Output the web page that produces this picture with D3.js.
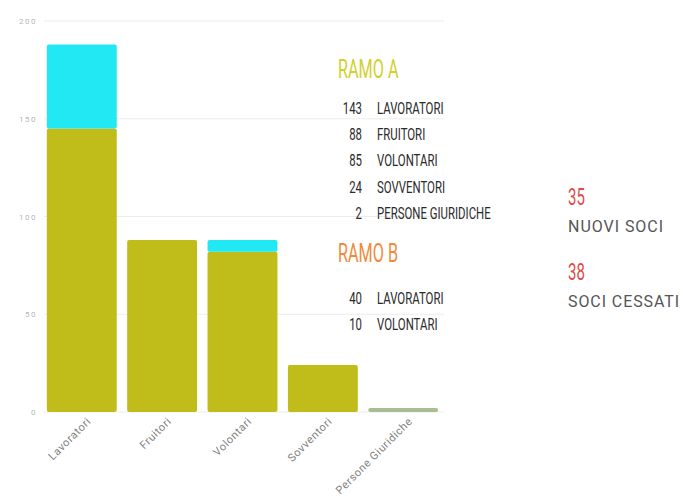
<!DOCTYPE html>
<html>
<head>
<meta charset="utf-8">
<script src="https://cdn.jsdelivr.net/npm/d3@7"></script>
<style>
  body { margin: 0; background: #fff; }
  svg text { font-family: Roboto, "Liberation Sans", sans-serif; }
</style>
</head>
<body>
<div id="chart"></div>
<script>
// categories and series
const categories = ["Lavoratori", "Fruitori", "Volontari", "Sovventori", "Persone Giuridiche"];
const ramoA = [145, 88, 82, 24, 2];
const ramoB = [43, 0, 6, 0, 0];
const yTicks = [0, 50, 100, 150, 200];

// side text
const ramoALabels = ["LAVORATORI", "FRUITORI", "VOLONTARI", "SOVVENTORI", "PERSONE GIURIDICHE"];
const ramoAValues = ["143", "88", "85", "24", "2"];
const ramoBLabels = ["LAVORATORI", "VOLONTARI"];
const ramoBValues = ["40", "10"];
const sociLabels = ["NUOVI SOCI", "SOCI CESSATI"];
const sociValues = ["35", "38"];

const width = 685, height = 501;
const colA = "#c0bc1a", colB = "#22e8f4", colSmall = "#a9bd95";

const svg = d3.select("#chart").append("svg")
  .attr("width", width)
  .attr("height", height);

// squeeze (or spread) text horizontally to look like the narrow font of the original
function condense(sel, k, mode) {
  sel.each(function () {
    const w = this.getComputedTextLength();
    d3.select(this)
      .attr("textLength", w * k)
      .attr("lengthAdjust", mode || "spacingAndGlyphs");
  });
}

const x = d3.scaleBand()
  .domain(categories)
  .range([42, 443])
  .paddingInner(0.13)
  .paddingOuter(0.06);

const y = d3.scaleLinear()
  .domain([0, 200])
  .range([412, 21]);

// gridlines
svg.append("g")
  .selectAll("line")
  .data(yTicks)
  .join("line")
  .attr("x1", 44)
  .attr("x2", 444)
  .attr("y1", d => y(d))
  .attr("y2", d => y(d))
  .attr("stroke", "#ececec")
  .attr("stroke-width", 1);

// y axis
const yAxis = svg.append("g")
  .attr("transform", "translate(37,0)")
  .call(d3.axisLeft(y).tickValues(yTicks).tickSize(0).tickPadding(0));
yAxis.select(".domain").remove();
yAxis.selectAll("text")
  .attr("fill", "#b5b5b5")
  .style("font-size", "8px")
  .style("letter-spacing", "1.5px");

// stacked bars
const rows = categories.map((c, i) => ({ cat: c, a: ramoA[i], b: ramoB[i] }));
const stack = d3.stack().keys(["a", "b"])(rows);
const colors = { a: colA, b: colB };

stack.forEach(layer => {
  svg.append("g")
    .selectAll("rect")
    .data(layer.filter(d => d[1] - d[0] > 0))
    .join("rect")
    .attr("x", d => x(d.data.cat))
    .attr("width", x.bandwidth())
    .attr("y", d => y(d[1]))
    .attr("height", d => y(d[0]) - y(d[1]))
    .attr("rx", 2)
    .attr("fill", d => (d[1] - d[0] < 5 && layer.key === "a") ? colSmall : colors[layer.key]);
});

// x axis
const xAxis = svg.append("g")
  .attr("transform", "translate(0,412)")
  .call(d3.axisBottom(x).tickSize(0).tickPadding(14));
xAxis.select(".domain").remove();
xAxis.selectAll("text")
  .attr("fill", "#808080")
  .style("font-size", "11px")
  .style("letter-spacing", "0.6px")
  .attr("text-anchor", "end")
  .attr("dx", "0")
  .attr("dy", "0")
  .attr("transform", "rotate(-45)");

// RAMO A block
svg.append("text")
  .attr("x", 338).attr("y", 78)
  .attr("fill", "#d2cf2e")
  .style("font-size", "25px")
  .text("RAMO A")
  .call(condense, 0.65);

const rowA = svg.append("g").selectAll("g")
  .data(ramoALabels)
  .join("g")
  .attr("transform", (d, i) => `translate(0,${114 + i * 26.2})`);
rowA.append("text")
  .attr("x", 362)
  .attr("text-anchor", "end")
  .attr("fill", "#2a2a2a")
  .style("font-size", "17px")
  .text((d, i) => ramoAValues[i])
  .call(condense, 0.67);
rowA.append("text")
  .attr("x", 377)
  .attr("fill", "#2a2a2a")
  .style("font-size", "17px")
  .text(d => d)
  .call(condense, 0.67);

// RAMO B block
svg.append("text")
  .attr("x", 338).attr("y", 262)
  .attr("fill", "#ef8a3c")
  .style("font-size", "25px")
  .text("RAMO B")
  .call(condense, 0.65);

const rowB = svg.append("g").selectAll("g")
  .data(ramoBLabels)
  .join("g")
  .attr("transform", (d, i) => `translate(0,${304 + i * 26.2})`);
rowB.append("text")
  .attr("x", 362)
  .attr("text-anchor", "end")
  .attr("fill", "#2a2a2a")
  .style("font-size", "17px")
  .text((d, i) => ramoBValues[i])
  .call(condense, 0.67);
rowB.append("text")
  .attr("x", 377)
  .attr("fill", "#2a2a2a")
  .style("font-size", "17px")
  .text(d => d)
  .call(condense, 0.67);

// soci
const soci = svg.append("g").selectAll("g")
  .data(sociLabels)
  .join("g")
  .attr("transform", (d, i) => `translate(568,${205 + i * 75})`);
soci.append("text")
  .attr("fill", "#e04a4a")
  .style("font-size", "23px")
  .text((d, i) => sociValues[i])
  .call(condense, 0.65);
soci.append("text")
  .attr("y", 27)
  .attr("fill", "#555")
  .style("font-size", "16px")
  .text(d => d)
  .call(condense, 1.1, "spacing");
</script>
</body>
</html>
